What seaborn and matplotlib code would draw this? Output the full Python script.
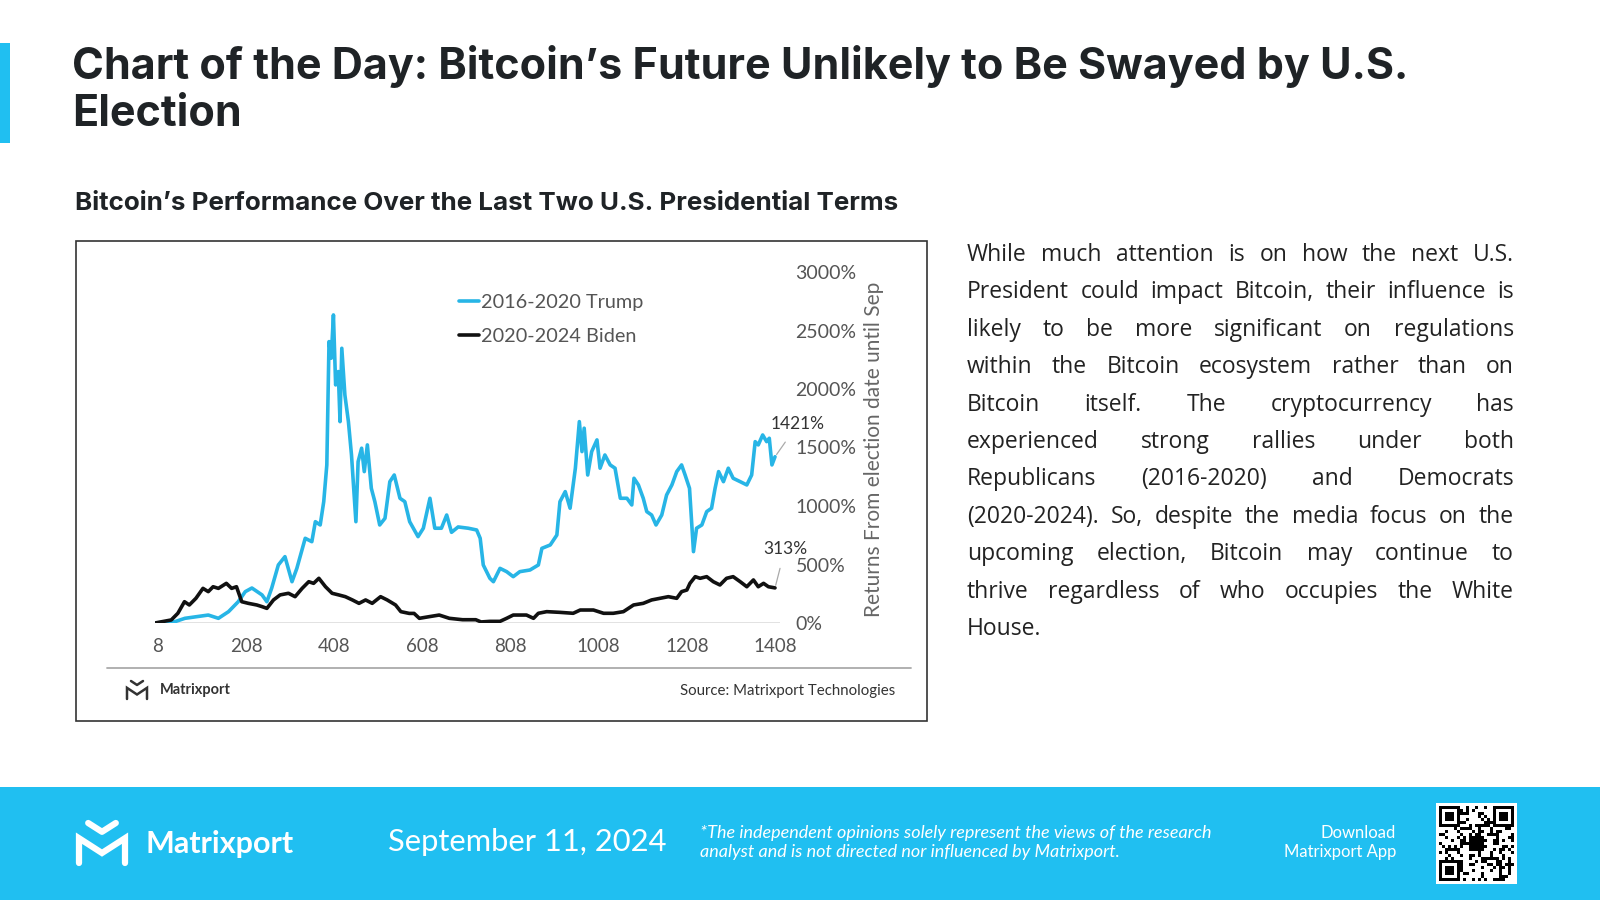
"""
Bitcoin performance over the last two U.S. presidential terms - Matrixport chart of the day
"""

import numpy as np
import pandas as pd
import seaborn as sns
import matplotlib.pyplot as plt
from matplotlib.patches import Rectangle
from matplotlib.lines import Line2D


# ====================================================================================================================
# Data
# ====================================================================================================================

trump_days = [1, 46, 69, 122, 145, 168, 190, 206, 221, 244, 255, 266, 281, 296, 312, 323, 342, 357, 365, 376,
              384, 391, 396, 401, 406, 411, 417, 421, 425, 432, 440, 447, 457, 462, 470, 476, 483, 492, 500, 511,
              523, 534, 544, 557, 568, 579, 598, 610, 625, 636, 651, 663, 674, 689, 712, 731, 739, 746, 761, 769,
              784, 799, 814, 829, 852, 871, 879, 898, 913, 920, 932, 943, 955, 964, 970, 975, 983, 992, 1004, 1011,
              1022, 1034, 1045, 1057, 1072, 1083, 1088, 1098, 1109, 1117, 1128, 1138, 1151, 1162, 1174, 1185, 1196,
              1204, 1214, 1223, 1230, 1242, 1253, 1264, 1272, 1280, 1291, 1302, 1313, 1329, 1344, 1355, 1363, 1370,
              1380, 1389, 1395, 1401, 1408]
trump_ret = [0, 11, 40, 68, 40, 97, 182, 268, 299, 240, 182, 299, 496, 567, 353, 467, 724, 695, 866, 838,
             1037, 1351, 2405, 2263, 2633, 2035, 2149, 1721, 2348, 1949, 1721, 1436, 866, 1379, 1494, 1294, 1522,
             1151, 1037, 838, 895, 1208, 1265, 1066, 1037, 866, 738, 810, 1066, 810, 810, 923, 775, 821, 810, 795,
             724, 496, 382, 353, 467, 439, 396, 439, 453, 496, 638, 667, 752, 1037, 1123, 981, 1323, 1721, 1465,
             1665, 1265, 1465, 1565, 1323, 1436, 1351, 1323, 1066, 1066, 1009, 1237, 1180, 1066, 952, 923, 838,
             923, 1094, 1180, 1294, 1351, 1265, 1151, 610, 810, 838, 952, 981, 1151, 1294, 1208, 1323, 1237, 1208,
             1180, 1265, 1550, 1522, 1607, 1550, 1579, 1351, 1421]

biden_days = [1, 38, 53, 68, 79, 94, 110, 122, 133, 145, 163, 175, 186, 198, 213, 232, 244, 255, 270, 285,
              304, 319, 335, 350, 361, 373, 388, 403, 418, 433, 449, 464, 479, 494, 513, 528, 547, 559, 578, 589,
              601, 623, 646, 669, 699, 729, 741, 761, 784, 799, 814, 844, 860, 871, 890, 920, 950, 966, 996, 1019,
              1041, 1064, 1087, 1109, 1128, 1147, 1166, 1185, 1196, 1208, 1215, 1227, 1238, 1253, 1268, 1283, 1298,
              1313, 1329, 1344, 1359, 1370, 1382, 1393, 1408]
biden_ret = [0, 26, 83, 182, 154, 211, 296, 268, 310, 296, 339, 296, 310, 182, 168, 154, 140, 125, 197, 240,
             254, 225, 296, 353, 339, 382, 310, 254, 240, 225, 197, 168, 197, 168, 225, 197, 154, 97, 82, 82,
             40, 54, 68, 40, 28, 28, 9, 14, 14, 40, 68, 68, 40, 83, 97, 91, 83, 111, 111, 83,
             83, 97, 154, 168, 197, 211, 225, 211, 268, 282, 339, 396, 382, 396, 353, 325, 382,
             396, 353, 310, 368, 310, 339, 310, 300]

terms = ['2016-2020 Trump', '2020-2024 Biden']
y_ticks = [0, 500, 1000, 1500, 2000, 2500, 3000]
x_ticks = [8, 208, 408, 608, 808, 1008, 1208, 1408]
end_labels = ['1421%', '313%']

paragraph = [
    "While much attention is on how the next U.S.",
    "President could impact Bitcoin, their influence is",
    "likely to be more significant on regulations",
    "within the Bitcoin ecosystem rather than on",
    "Bitcoin itself. The cryptocurrency has",
    "experienced strong rallies under both",
    "Republicans (2016-2020) and Democrats",
    "(2020-2024). So, despite the media focus on the",
    "upcoming election, Bitcoin may continue to",
    "thrive regardless of who occupies the White",
    "House.",
]

df = pd.concat([
    pd.DataFrame({'day': trump_days, 'ret': trump_ret, 'term': terms[0]}),
    pd.DataFrame({'day': biden_days, 'ret': biden_ret, 'term': terms[1]}),
])

# ====================================================================================================================
# Figure
# ====================================================================================================================

W, H = 1600, 900
CYAN = '#20BFF1'
sns.set_style('white')
plt.rcParams['font.family'] = ['Lato', 'DejaVu Sans']

fig = plt.figure(figsize=(16, 9), dpi=100)
fig.patch.set_facecolor('white')


def fx(px):
    return px / W


def fy(py):
    return 1 - py / H


# accent bar and title
fig.add_artist(Rectangle((0, fy(143)), fx(10), (143 - 43) / H, transform=fig.transFigure, color=CYAN, lw=0))
fig.text(fx(72), fy(66), "Chart of the Day: Bitcoin’s Future Unlikely to Be Swayed by U.S.",
         fontsize=31, fontweight='bold', color='#1f2326', va='center', family=['Inter', 'DejaVu Sans'])
fig.text(fx(72), fy(115), "Election", fontsize=31, fontweight='bold', color='#1f2326', va='center',
         family=['Inter', 'DejaVu Sans'])
fig.text(fx(75), fy(203), "Bitcoin’s Performance Over the Last Two U.S. Presidential Terms",
         fontsize=18.7, fontweight='bold', color='#1f2326', va='center', family=['Inter', 'DejaVu Sans'])

# chart box
fig.add_artist(Rectangle((fx(76), fy(721)), fx(927 - 76), (721 - 241) / H, transform=fig.transFigure,
                         fill=False, ec='#333333', lw=1.2))

ax = fig.add_axes([fx(154.5), fy(623), fx(780.3 - 154.5), (623 - 272) / H])
sns.lineplot(data=df, x='day', y='ret', hue='term', palette=['#27B5E6', '#111111'],
             linewidth=2.6, ax=ax, estimator=None, sort=False)
ax.set_xlim(0, 1420)
ax.set_ylim(0, 3000)
ax.axhline(0, color='#dddddd', lw=1.2, zorder=0)
for s in ax.spines.values():
    s.set_visible(False)
ax.set_facecolor('none')
ax.yaxis.tick_right()
ax.set_yticks(y_ticks)
ax.set_yticklabels([f"{v}%" for v in y_ticks])
ax.set_xticks(x_ticks)
ax.set_xticklabels([str(v) for v in x_ticks])
ax.tick_params(axis='y', length=0, pad=11, labelsize=14, labelcolor='#555555')
ax.tick_params(axis='x', length=0, pad=11, labelsize=13.5, labelcolor='#555555')
ax.set_xlabel('')
ax.set_ylabel('')
fig.text(fx(874), fy(449), "Returns From election date until Sep", rotation=90, fontsize=15,
         color='#666666', ha='center', va='center')

handles, labels = ax.get_legend_handles_labels()
ax.legend(handles, labels, loc='upper left', bbox_to_anchor=(fx(459), fy(294)), bbox_transform=fig.transFigure,
          frameon=False, fontsize=14.3, labelcolor='#555555', handlelength=1.0, handletextpad=0.1,
          labelspacing=0.85, borderpad=0, borderaxespad=0)

# end-of-line callouts
ax.annotate(end_labels[0], xy=(trump_days[-1], trump_ret[-1]), xytext=(fx(798), fy(424)),
            textcoords='figure fraction', ha='center', va='center', fontsize=12.5, color='#333333',
            arrowprops=dict(arrowstyle='-', color='#aaaaaa', lw=0.9, shrinkA=6, shrinkB=2))
ax.annotate(end_labels[1], xy=(biden_days[-1], biden_ret[-1]), xytext=(fx(785), fy(549)),
            textcoords='figure fraction', ha='center', va='center', fontsize=12.5, color='#333333',
            arrowprops=dict(arrowstyle='-', color='#aaaaaa', lw=0.9, shrinkA=6, shrinkB=2))

# box footer
fig.add_artist(Line2D([fx(107), fx(911)], [fy(668), fy(668)], transform=fig.transFigure, color='#aaaaaa', lw=1.3))


def draw_logo(x0, y0, w, h, color, lw):
    # simple Matrixport mark: an M with a chevron above
    xs = [x0, x0, x0 + w / 2, x0 + w, x0 + w]
    ys = [y0, y0 + h * 0.62, y0 + h * 0.25, y0 + h * 0.62, y0]
    fig.add_artist(Line2D([fx(v) for v in xs], [fy(v) for v in [y0 + h - (y - y0) for y in ys]],
                          transform=fig.transFigure, color=color, lw=lw, solid_joinstyle='miter', zorder=3))
    cx = [x0 + w * 0.2, x0 + w / 2, x0 + w * 0.8]
    cy = [y0 + h * 0.0, y0 + h * 0.22, y0 + h * 0.0]
    fig.add_artist(Line2D([fx(v) for v in cx], [fy(v) for v in cy], transform=fig.transFigure,
                          color=color, lw=lw, zorder=3))


draw_logo(127, 681, 20, 18, '#333333', 1.8)
fig.text(fx(160), fy(690), "Matrixport", fontsize=10.5, fontweight='bold', color='#333333', va='center')
fig.text(fx(895), fy(691), "Source: Matrixport Technologies", fontsize=10.8, color='#333333',
         va='center', ha='right')

# justified paragraph on the right
renderer = fig.canvas.get_renderer()
left, right = 967, 1514
for i, line in enumerate(paragraph):
    y = 255 + i * 37.4
    words = line.split(' ')
    if i == len(paragraph) - 1:
        fig.text(fx(left), fy(y), line, fontsize=16.5, color='#222222', va='center',
                 family=['Open Sans', 'DejaVu Sans'])
        continue
    objs, widths = [], []
    for w_ in words:
        t = fig.text(0, fy(y), w_, fontsize=16.5, color='#222222', va='center', family=['Open Sans', 'DejaVu Sans'])
        objs.append(t)
        widths.append(t.get_window_extent(renderer).width)
    gap = (right - left - sum(widths)) / (len(words) - 1)
    x = left
    for t, wd in zip(objs, widths):
        t.set_x(fx(x))
        x += wd + gap

# bottom band
fig.add_artist(Rectangle((0, 0), 1, (900 - 787) / H, transform=fig.transFigure, color=CYAN, lw=0, zorder=-1))
draw_logo(79, 823, 46, 40, 'white', 4.5)
fig.text(fx(146), fy(844), "Matrixport", fontsize=22, fontweight='bold', color='white', va='center')
fig.text(fx(388), fy(842), "September 11, 2024", fontsize=22.2, color='white', va='center')
fig.text(fx(700), fy(833), "*The independent opinions solely represent the views of the research",
         fontsize=13, style='italic', color='white', va='center')
fig.text(fx(700), fy(852), "analyst and is not directed nor influenced by Matrixport.",
         fontsize=13, style='italic', color='white', va='center')
fig.text(fx(1396), fy(833), "Download", fontsize=12, color='white', va='center', ha='right')
fig.text(fx(1396), fy(852), "Matrixport App", fontsize=12, color='white', va='center', ha='right')

# QR-like badge (decorative)
qax = fig.add_axes([fx(1436), fy(884), fx(81), (884 - 803) / H], zorder=5)
n = 25
ii, jj = np.meshgrid(np.arange(n), np.arange(n))
grid = (((ii * 7 + jj * 13) ^ (ii * jj)) % 3 == 0).astype(float)
for (r, c) in [(0, 0), (0, n - 7), (n - 7, 0)]:
    grid[r:r + 7, c:c + 7] = 1
    grid[r + 1:r + 6, c + 1:c + 6] = 0
    grid[r + 2:r + 5, c + 2:c + 5] = 1
grid[10:15, 10:15] = 1
qax.imshow(1 - grid, cmap='gray', interpolation='nearest', extent=(1, n + 1, n + 1, 1), aspect='auto')
qax.set_xlim(0, n + 2)
qax.set_ylim(n + 2, 0)
qax.set_facecolor('white')
qax.set_xticks([])
qax.set_yticks([])
for s in qax.spines.values():
    s.set_visible(False)

fig.savefig('out.png', dpi=100, facecolor='white')
